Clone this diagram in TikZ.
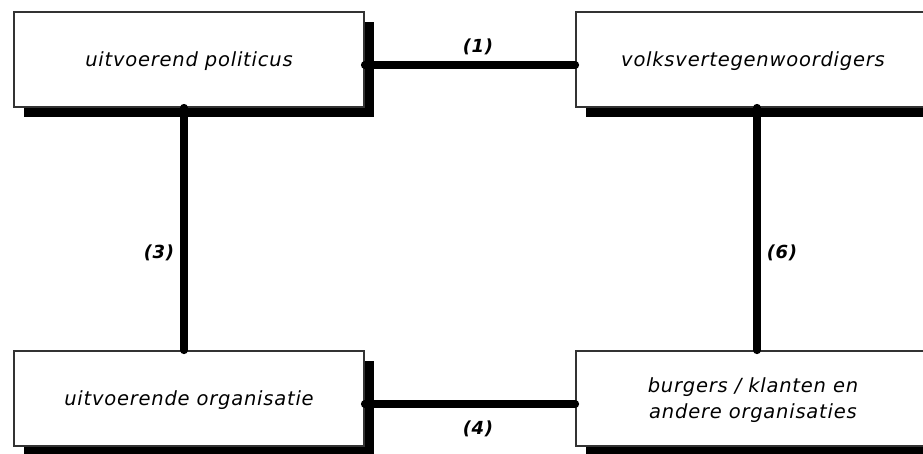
\documentclass[tikz,border=0pt]{standalone}
\usepackage{fontspec}
\setmainfont{DejaVu Sans}[LetterSpace=4]
\usetikzlibrary{positioning,calc,shadows}

\begin{document}
\begin{tikzpicture}[x=1pt,y=-1pt,
    box/.style={draw=black!80,line width=1.3pt,fill=white,minimum height=95pt,align=center,
      text depth=0pt,font=\itshape\fontsize{19.5}{26}\selectfont,
      drop shadow={shadow xshift=10pt,shadow yshift=-10pt,fill=black,opacity=1}},
    link/.style={line width=7.5pt,line cap=round},
    lbl/.style={font=\bfseries\itshape\fontsize{18}{20}\selectfont}]
  \clip (0,0) rectangle (923,453);
  \node[box,minimum width=350pt] (pol) at (189,59.5) {uitvoerend politicus};
  \node[box,minimum width=354pt] (volk) at (753,59.5) {volksvertegenwoordigers};
  \node[box,minimum width=350pt] (org) at (189,398.5) {uitvoerende organisatie};
  \node[box,minimum width=354pt] (burg) at (753,398.5) {burgers / klanten en\\andere organisaties};
  \draw[link] ([yshift=-5.5pt]pol.east) -- ([yshift=-5.5pt]volk.west)
    node[lbl,midway,xshift=8pt,yshift=18pt]{(1)};
  \draw[link] ([xshift=-5pt]pol.south) -- ([xshift=-5pt]org.north)
    node[lbl,midway,xshift=-25pt,yshift=-24pt]{(3)};
  \draw[link] ([yshift=-5.5pt]org.east) -- ([yshift=-5.5pt]burg.west)
    node[lbl,midway,xshift=8pt,yshift=-25pt]{(4)};
  \draw[link] ([xshift=4pt]volk.south) -- ([xshift=4pt]burg.north)
    node[lbl,midway,xshift=25pt,yshift=-24pt]{(6)};
\end{tikzpicture}
\end{document}
